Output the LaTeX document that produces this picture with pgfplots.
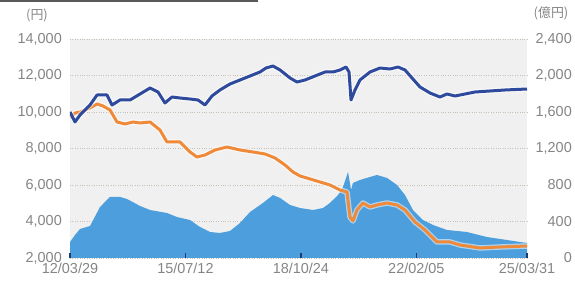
\documentclass[border=0pt]{standalone}
\usepackage{fontspec}
\setmainfont{Liberation Sans}
\newfontfamily\cjk{Noto Sans CJK JP}
\usepackage{pgfplots}
\usepackage{pgfplotstable}
\pgfplotsset{compat=1.18}
\definecolor{bg}{HTML}{F0F0F0}
\definecolor{navyline}{HTML}{2E4A9C}
\definecolor{orangeline}{HTML}{EE8A3A}
\definecolor{areablue}{HTML}{4C9FDC}
\definecolor{labelgray}{HTML}{858585}
\definecolor{gridc}{HTML}{C9C0B6}
\definecolor{tickc}{HTML}{1F3A6E}

% x = days since 2012/03/29
\pgfplotstableread{
x y
0 10000
52 9452
104 9836
208 10384
281 10932
385 10932
437 10384
520 10658
624 10658
728 10987
832 11315
915 11096
987 10493
1060 10822
1143 10767
1247 10713
1330 10658
1403 10384
1476 10877
1559 11206
1663 11534
1767 11754
1871 11973
1975 12192
2037 12411
2110 12521
2183 12302
2287 11863
2359 11644
2443 11754
2547 11973
2651 12192
2734 12192
2806 12302
2869 12466
2900 12192
2921 10658
2962 11206
3014 11754
3118 12192
3222 12411
3326 12356
3409 12466
3482 12302
3555 11863
3638 11370
3742 11041
3846 10822
3918 10987
4002 10877
4106 10987
4210 11096
4365 11151
4521 11206
4750 11260
}\bluedata

\pgfplotstableread{
x y
0 9672
52 9945
104 10000
208 10219
281 10439
343 10329
416 10110
489 9452
572 9343
655 9452
728 9398
832 9452
935 9014
1008 8357
1143 8357
1247 7809
1320 7535
1403 7644
1507 7918
1632 8083
1767 7918
1902 7809
2027 7699
2131 7480
2235 7096
2318 6713
2391 6494
2495 6329
2599 6165
2702 6001
2806 5727
2879 5617
2910 4247
2941 4028
2983 4631
3045 5014
3118 4795
3191 4905
3295 5014
3399 4905
3482 4631
3586 3973
3690 3535
3815 2877
3950 2877
4054 2713
4262 2548
4469 2603
4750 2658
}\orangedata

\pgfplotstableread{
x y
0 175
52 252
104 318
208 351
312 559
416 669
520 669
592 647
728 570
832 526
1008 493
1112 449
1247 416
1351 340
1455 285
1559 274
1663 296
1767 384
1871 504
2006 603
2110 690
2183 658
2287 581
2391 548
2526 526
2630 548
2702 603
2786 690
2838 778
2890 943
2921 745
2941 822
3014 855
3118 888
3191 910
3295 877
3399 800
3482 690
3565 526
3669 416
3773 362
3918 307
4126 285
4334 230
4542 197
4750 164
}\areadata

\begin{document}
\fontsize{14.5}{17}\selectfont
\begin{tikzpicture}
\useasboundingbox (-70bp,-27bp) rectangle (505bp,258bp);
\draw[line width=2bp, color=black!65] (-70bp,256.8bp) -- (188bp,256.8bp);
\node[text=labelgray, font=\cjk\fontsize{13}{15}\selectfont] at (-33bp,243bp) {(円)};
\node[text=labelgray, font=\cjk\fontsize{13}{15}\selectfont] at (481bp,245bp) {(億円)};

% right axis: net assets (area) with background and grid
\begin{axis}[
  at={(0bp,0bp)}, anchor=south west,
  scale only axis, width=457bp, height=219bp,
  xmin=0, xmax=4750, ymin=0, ymax=2400,
  axis y line*=right, axis x line*=bottom,
  axis line style={draw=none},
  axis background/.style={fill=bg},
  ytick={0,400,...,2400},
  ymajorgrids, grid style={gridc, dotted, line width=0.9bp},
  xtick={0,1200,2400,3600,4750},
  xticklabels={12/03/29,15/07/12,18/10/24,22/02/05,25/03/31},
  major tick length=0pt,
  tick label style={text=labelgray},
  yticklabel style={anchor=east, inner sep=0pt, xshift=45bp},
  xticklabel style={anchor=north, inner sep=0pt, yshift=-5bp},
  scaled y ticks=false,
  /pgf/number format/assume math mode=true,
  /pgf/number format/1000 sep={,},
]
\addplot[fill=areablue, draw=none] table[x=x, y=y] {\areadata} \closedcycle;
\end{axis}

% left axis: prices
\begin{axis}[
  at={(0bp,0bp)}, anchor=south west,
  scale only axis, width=457bp, height=219bp,
  xmin=0, xmax=4750, ymin=2000, ymax=14000,
  axis y line*=left, axis x line*=bottom,
  axis line style={draw=none},
  ytick={2000,4000,...,14000},
  xtick={0,1200,2400,3600,4750},
  xticklabels={},
  tick align=inside,
  xtick style={tickc, line width=1.6bp},
  ytick style={draw=none},
  major tick length=5bp,
  tick label style={text=labelgray},
  yticklabel style={anchor=east, inner sep=0pt, xshift=-8bp},
  scaled y ticks=false,
  /pgf/number format/assume math mode=true,
  /pgf/number format/1000 sep={,},
]
\addplot[white, opacity=0.55, line width=5.5bp, line join=round] table[x=x, y=y] {\orangedata};
\addplot[orangeline, line width=3bp, line join=round] table[x=x, y=y] {\orangedata};
\addplot[white, opacity=0.55, line width=5.5bp, line join=round] table[x=x, y=y] {\bluedata};
\addplot[navyline, line width=3bp, line join=round] table[x=x, y=y] {\bluedata};
\end{axis}
\end{tikzpicture}
\end{document}
